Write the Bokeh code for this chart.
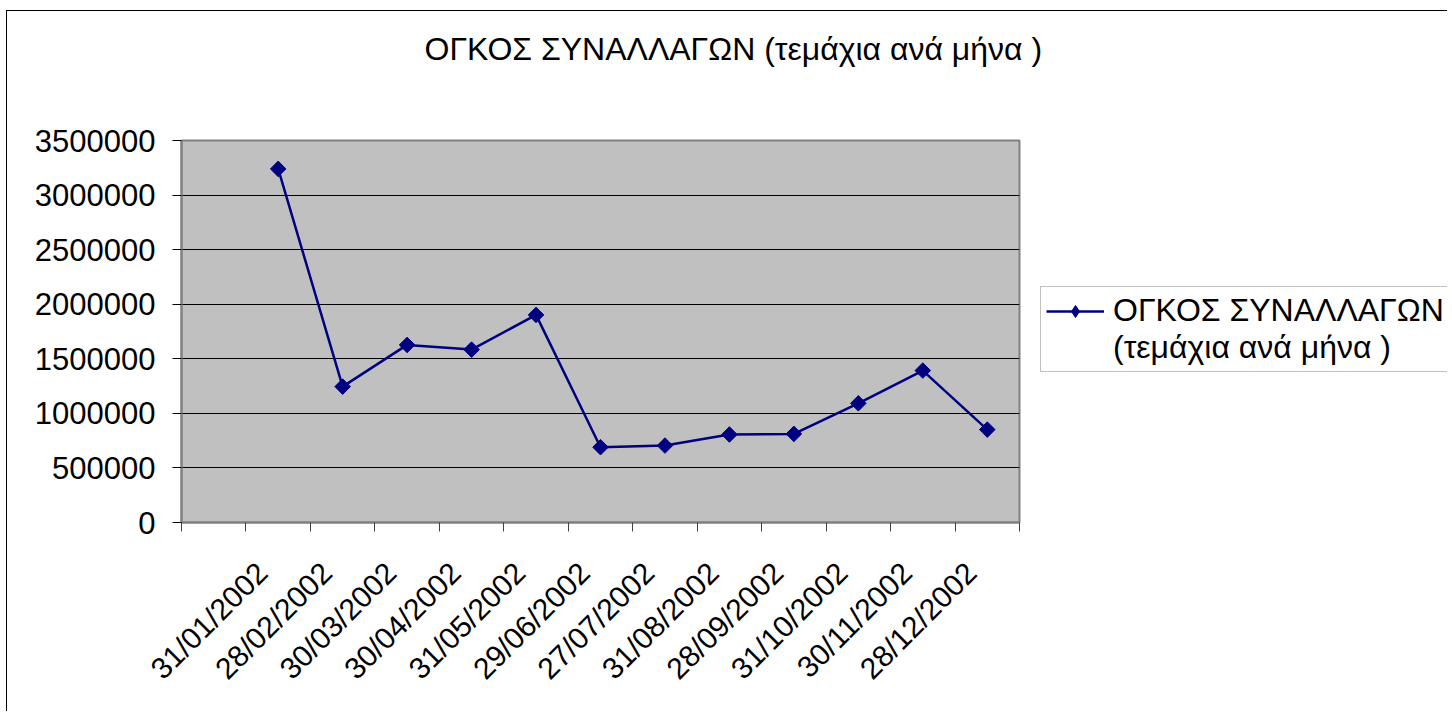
import math
from bokeh.plotting import figure
from bokeh.layouts import row, column
from bokeh.models import (Range1d, FixedTicker, Legend, LegendItem)
from bokeh.embed import file_html
from bokeh.resources import INLINE

# ---- data ----
dates = ["31/01/2002", "28/02/2002", "30/03/2002", "30/04/2002", "31/05/2002",
         "29/06/2002", "27/07/2002", "31/08/2002", "28/09/2002", "31/10/2002",
         "30/11/2002", "28/12/2002"]
volumes = [3240000, 1245000, 1627000, 1584000, 1902000,
           690000, 705000, 806000, 812000, 1092000, 1392000, 851000]
y_ticks = [0, 500000, 1000000, 1500000, 2000000, 2500000, 3000000, 3500000]
title_text = "ΟΓΚΟΣ ΣΥΝΑΛΛΑΓΩΝ (τεμάχια ανά μήνα )"
series_label_lines = ["ΟΓΚΟΣ ΣΥΝΑΛΛΑΓΩΝ", "(τεμάχια ανά μήνα )"]

FONT = "Liberation Sans"
GREY = "#808080"
NAVY = "#000080"
NAN = float("nan")

# one empty leading category, as in the original sheet
xs = list(range(1, len(dates) + 1))

# ---- title strip ----
t = figure(width=1440, height=100, output_backend="svg", toolbar_location=None,
           x_range=Range1d(0, 1), y_range=Range1d(0, 1),
           x_axis_location=None, y_axis_location=None,
           min_border_left=174, min_border_right=428, min_border_top=0,
           min_border_bottom=0)
t.outline_line_color = None
t.grid.visible = False
t.background_fill_color = "white"
t.title.text = title_text
t.title.text_font = FONT
t.title.text_font_size = "32px"
t.title.text_font_style = "normal"
t.title.text_color = "black"
t.title.align = "left"
t.title.offset = 243
t.title.standoff = 34

# ---- main chart ----
p = figure(width=1014, height=600, output_backend="svg", toolbar_location=None,
           x_range=Range1d(-0.5, len(dates) + 0.5), y_range=Range1d(0, 3500000),
           min_border_left=174, min_border_right=2, min_border_top=29,
           min_border_bottom=189)

p.background_fill_color = "#C0C0C0"
p.border_fill_color = "white"
p.outline_line_color = GREY
p.outline_line_width = 2

# y axis
p.yaxis.ticker = FixedTicker(ticks=y_ticks)
p.yaxis.major_label_text_font = FONT
p.yaxis.major_label_text_font_size = "31px"
p.yaxis.major_label_text_color = "black"
p.yaxis.major_tick_out = 9
p.yaxis.major_tick_in = 0
p.yaxis.minor_tick_line_color = None
p.yaxis.major_tick_line_color = "black"
p.yaxis.axis_line_color = GREY
p.yaxis.axis_line_width = 2
p.yaxis.major_label_standoff = 17
p.yaxis.formatter.use_scientific = False

# x axis: labels near category centres, ticks at category boundaries
label_pos = [x - 0.25 for x in xs]
p.xaxis.ticker = FixedTicker(ticks=label_pos,
                             minor_ticks=[i - 0.5 for i in range(0, len(dates) + 2)])
p.xaxis.major_label_overrides = {x: d for x, d in zip(label_pos, dates)}
p.xaxis.major_label_orientation = math.pi / 4
p.xaxis.major_label_text_font = FONT
p.xaxis.major_label_text_font_size = "30px"
p.xaxis.major_label_text_color = "black"
p.xaxis.major_tick_line_color = None
p.xaxis.major_tick_out = 0
p.xaxis.major_tick_in = 0
p.xaxis.minor_tick_out = 9
p.xaxis.minor_tick_in = 0
p.xaxis.minor_tick_line_color = "#404040"
p.xaxis.axis_line_color = GREY
p.xaxis.axis_line_width = 2
p.xaxis.major_label_standoff = 36

p.xgrid.grid_line_color = None
p.ygrid.ticker = FixedTicker(ticks=y_ticks[1:-1])
p.ygrid.grid_line_color = "black"
p.ygrid.grid_line_width = 1

p.line(xs, volumes, line_color=NAVY, line_width=2.5)
p.scatter(xs, volumes, marker="square", size=11, angle=math.pi / 4,
          fill_color=NAVY, line_color=NAVY)

# ---- legend panel to the right ----
q = figure(width=426, height=600, output_backend="svg", toolbar_location=None,
           x_range=Range1d(0, 1), y_range=Range1d(0, 1),
           x_axis_location=None, y_axis_location=None, min_border=0)
q.outline_line_color = None
q.grid.visible = False
q.background_fill_color = "white"
q.border_fill_color = "white"

# legend-only stand-ins (nothing is drawn in the plot area)
leg_line = q.line([NAN], [NAN], line_color=NAVY, line_width=2.5)
leg_pts = q.scatter([NAN], [NAN], marker="diamond", size=16,
                    fill_color=NAVY, line_color=NAVY)
leg_blank = q.line([NAN], [NAN], line_alpha=0)

legend = Legend(items=[LegendItem(label=series_label_lines[0], renderers=[leg_line, leg_pts]),
                       LegendItem(label=series_label_lines[1], renderers=[leg_blank])],
                location=(19, 150))
legend.label_text_font = FONT
legend.label_text_font_size = "32px"
legend.label_text_color = "black"
legend.glyph_width = 58
legend.label_standoff = 9
legend.label_height = 30
legend.glyph_height = 30
legend.spacing = 0
legend.padding = 5
legend.margin = 0
legend.border_line_color = GREY
legend.border_line_width = 1.5
legend.background_fill_color = "white"
q.add_layout(legend, "center")

layout = column(t, row(p, q))
layout.styles = {"margin-left": "6px", "margin-top": "10px",
                 "border-left": "1px solid black", "border-top": "1px solid black"}

open("out.html", "w").write(file_html(layout, INLINE))
